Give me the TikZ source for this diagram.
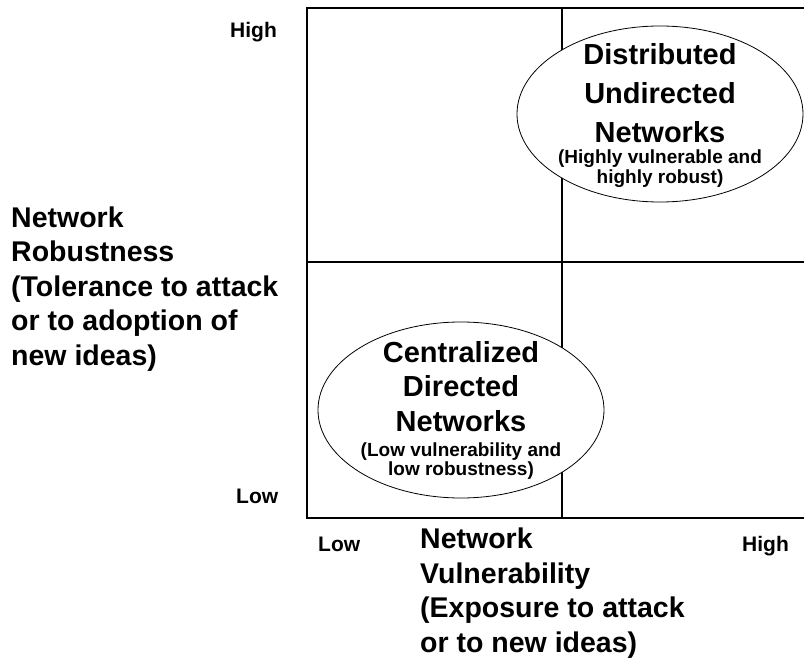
\documentclass[tikz,border=0pt]{standalone}
\usepackage{fontspec}
\setmainfont{Liberation Sans}
\usetikzlibrary{shapes.geometric}

\newcommand{\smalltxt}{\fontsize{19}{20}\selectfont\bfseries}

\tikzset{
  axistitle/.style={font=\fontsize{28.5}{34.5}\selectfont\bfseries, align=left, inner sep=0pt, anchor=base west},
  ticklabel/.style={font=\fontsize{21}{22}\selectfont\bfseries, inner sep=0pt, anchor=base west},
  netbubble/.style={draw, fill=white, ellipse, line width=0.8pt, inner sep=0pt,
    minimum width=286, minimum height=176},
  bubbletext/.style={align=center, inner sep=0pt, font=\fontsize{29}{39}\selectfont\bfseries},
}

\begin{document}
\begin{tikzpicture}[x=1pt, y=-1pt]
			%%%%% FRAME %%%%%
			\clip (0, 0) rectangle (804, 658);
			\fill[white] (0, 0) rectangle (804, 658);
			
			\draw[line width=1.2pt] (307, 8) rectangle (817, 518);
			\draw[line width=1.2pt] (562, 8) -- (562, 518);
			\draw[line width=1.2pt] (307, 262) -- (817, 262);
			
			%%%%% BUBBLES %%%%%
			\node[netbubble] (dist) at (660, 114) {};
			\node[bubbletext] (disttext) at ([yshift=-2pt]dist.center) {Distributed\\Undirected\\Networks\\[-18pt]
				{\smalltxt (Highly vulnerable and}\\[-19pt]{\smalltxt highly robust)}};
			\node[netbubble] (cent) at (461, 410) {};
			\node[bubbletext, font=\fontsize{29}{34}\selectfont\bfseries] (centtext) at ([yshift=0pt]cent.center)
				{Centralized\\Directed\\[1pt]Networks\\[-9pt]
				{\smalltxt (Low vulnerability and}\\[-15pt]{\smalltxt low robustness)}};
			
			%%%%% AXES %%%%%
			\node[ticklabel] (yhigh) at (230, 38) {High};
			\node[ticklabel] (ylow) at (236, 503) {Low};
			\node[ticklabel] (xlow) at (318, 551) {Low};
			\node[ticklabel] (xhigh) at (742, 551) {High};
			
			\node[axistitle] (ytitle) at (11, 365) {Network\\Robustness\\(Tolerance to attack\\or to adoption of\\new ideas)};
			\node[axistitle] (xtitle) at (420, 652) {Network\\Vulnerability\\(Exposure to attack\\or to new ideas)};
			
			%%%%% END %%%%%
\end{tikzpicture}
\end{document}
